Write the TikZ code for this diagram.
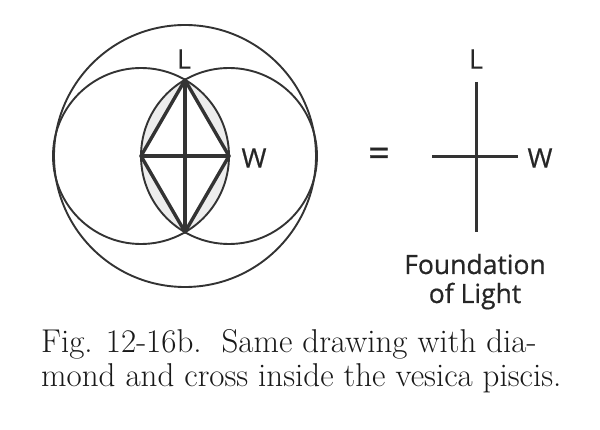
\documentclass[tikz,border=0pt]{standalone}
\usepackage{fontspec}
\newfontfamily\labelfont[FakeBold=0.6]{Open Sans}
\tikzset{
  thincirc/.style={draw=black!80, line width=1.9pt},
  heavy/.style={draw=black!80, line width=3.4pt, line cap=round, line join=round},
  lbl/.style={font=\labelfont\fontsize{27}{30}\selectfont, text=black!85, inner sep=0pt},
  captext/.style={font=\fontsize{33}{36}\selectfont, text=black!90, inner sep=0pt, anchor=base west},
}
\begin{document}
\begin{tikzpicture}[x=1pt,y=-1pt]
\useasboundingbox (0,0) rectangle (600,430);
% centres and vertices
\coordinate (C) at (185,156);
\coordinate (CL) at (141,156);
\coordinate (CR) at (229,156);
\coordinate (T) at (185,80);
\coordinate (B) at (185,232);
% shaded vesica
\begin{scope}
  \clip (CL) circle (88);
  \fill[gray!14] (CR) circle (88);
\end{scope}
\fill[white] (T) -- (CR) -- (B) -- (CL) -- cycle;
% circles
\draw[thincirc] (C) circle (131);
\draw[thincirc] (CL) circle (88);
\draw[thincirc] (CR) circle (88);
% diamond and cross
\draw[heavy] (T) -- (CR) -- (B) -- (CL) -- cycle;
\draw[heavy] (T) -- (B);
\draw[heavy] (CL) -- (CR);
\node[lbl] (L1) at (184,59) {L};
\node[lbl] (W1) at (254,158) {W};
% equals sign
\node[lbl, font=\labelfont\fontsize{38}{38}\selectfont] (eq) at (379,157) {=};
% right cross
\coordinate (RT) at (476,82);
\coordinate (RB) at (476,232);
\coordinate (RL) at (432,157);
\coordinate (RR) at (518,157);
\draw[heavy, line width=3pt, line cap=butt] (RT) -- (RB);
\draw[heavy, line width=3pt, line cap=butt] (RL) -- (RR);
\node[lbl] (L2) at (476,59) {L};
\node[lbl] (W2) at (540,158) {W};
\node[lbl, font=\labelfont\fontsize{26.5}{30}\selectfont, anchor=base] (f1) at (475,274) {Foundation};
\node[lbl, font=\labelfont\fontsize{26.5}{30}\selectfont, anchor=base] (f2) at (475,303) {of Light};
% caption
\node[captext] (c1) at (41,353) {Fig. 12-16b.\ \ Same drawing with dia-};
\node[captext] (c2) at (41,387) {mond and cross inside the vesica piscis.};
\end{tikzpicture}
\end{document}
